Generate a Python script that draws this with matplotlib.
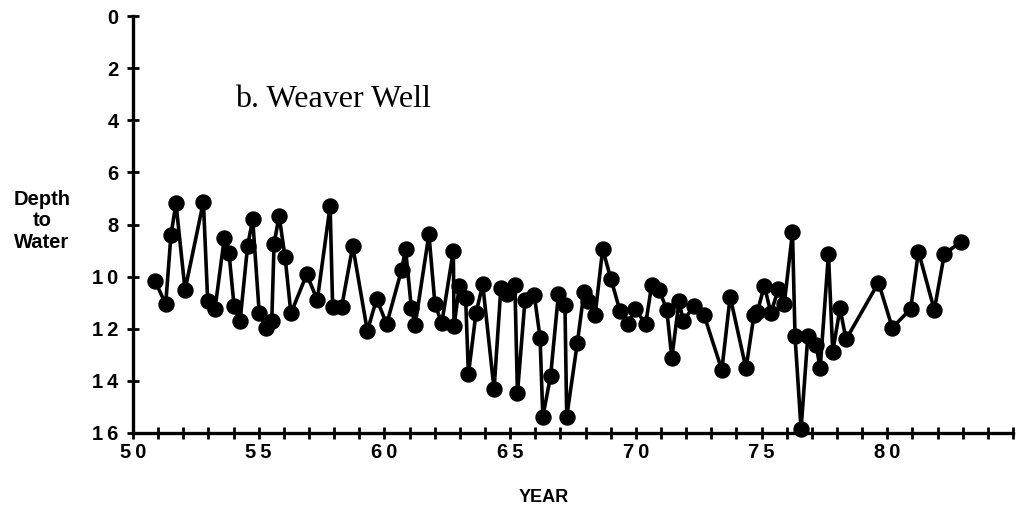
import matplotlib
matplotlib.use("Agg")
import matplotlib.pyplot as plt
from matplotlib.ticker import MultipleLocator, FuncFormatter

# Year of observation (19xx)
years = [50.88, 51.30, 51.51, 51.71, 52.07, 52.80, 52.97, 53.26, 53.63, 53.82,
         54.02, 54.26, 54.56, 54.76, 55.02, 55.29, 55.52, 55.61, 55.81, 56.05,
         56.28, 56.91, 57.33, 57.84, 57.94, 58.30, 58.74, 59.32, 59.69, 60.09,
         60.68, 60.84, 61.07, 61.22, 61.77, 62.01, 62.28, 62.74, 62.77, 62.98,
         63.23, 63.34, 63.64, 63.91, 64.36, 64.63, 64.89, 65.19, 65.29, 65.59,
         65.96, 66.19, 66.30, 66.61, 66.92, 67.18, 67.25, 67.67, 67.94, 68.11,
         68.38, 68.68, 69.01, 69.37, 69.68, 69.97, 70.39, 70.63, 70.93, 71.23,
         71.43, 71.72, 71.88, 72.33, 72.71, 73.42, 73.75, 74.38, 74.70, 74.83,
         75.11, 75.37, 75.67, 75.90, 76.23, 76.33, 76.57, 76.84, 77.17, 77.33,
         77.66, 77.83, 78.12, 78.36, 79.65, 80.20, 80.93, 81.24, 81.87, 82.27,
         82.94]

# Depth to water
depth = [10.17, 11.06, 8.40, 7.19, 10.51, 7.13, 10.92, 11.25, 8.53, 9.11,
         11.13, 11.69, 8.81, 7.80, 11.39, 11.98, 11.69, 8.75, 7.67, 9.26,
         11.41, 9.91, 10.90, 7.29, 11.15, 11.15, 8.83, 12.08, 10.86, 11.82,
         9.75, 8.94, 11.19, 11.86, 8.38, 11.06, 11.79, 9.01, 11.88, 10.36,
         10.83, 13.75, 11.41, 10.30, 14.32, 10.45, 10.67, 10.32, 14.48, 10.90,
         10.71, 12.34, 15.38, 13.80, 10.68, 11.09, 15.38, 12.56, 10.58, 10.92,
         11.47, 8.95, 10.09, 11.32, 11.82, 11.24, 11.82, 10.32, 10.51, 11.28,
         13.11, 10.94, 11.69, 11.13, 11.47, 13.58, 10.77, 13.52, 11.47, 11.35,
         10.36, 11.39, 10.48, 11.06, 8.30, 12.28, 15.85, 12.28, 12.62, 13.52,
         9.13, 12.88, 11.22, 12.41, 10.23, 11.96, 11.24, 9.04, 11.28, 9.13,
         8.66]

x_tick_labels = [50, 55, 60, 65, 70, 75, 80]
y_ticks = [0, 2, 4, 6, 8, 10, 12, 14, 16]

title_text = "b. Weaver Well"
ylabel_text = "Depth\nto\nWater"
xlabel_text = "YEAR"

sans = ['Liberation Sans', 'DejaVu Sans']

fig = plt.figure(figsize=(10.19, 5.15), dpi=100)
ax = fig.add_axes([133 / 1019, 82 / 515, 880 / 1019, 417 / 515])

ax.plot(years, depth, color='black', linewidth=2.6, marker='o',
        markersize=10.8, markerfacecolor='black', markeredgecolor='black',
        clip_on=False, zorder=3)

ax.set_xlim(50, 85)
ax.set_ylim(16, 0)

for s in ['top', 'right']:
    ax.spines[s].set_visible(False)
for s in ['left', 'bottom']:
    ax.spines[s].set_linewidth(2.4)

ax.set_yticks(y_ticks)
ax.xaxis.set_major_locator(MultipleLocator(1))


def spaced(v):
    return '\u2009'.join(str(int(round(v))))


def xfmt(v, p):
    iv = int(round(v))
    return spaced(iv) if iv in x_tick_labels else ''


ax.xaxis.set_major_formatter(FuncFormatter(xfmt))
ax.yaxis.set_major_formatter(FuncFormatter(lambda v, p: spaced(v)))

ax.tick_params(axis='both', direction='inout', length=9, width=2, color='black')
ax.tick_params(axis='y', pad=6)
ax.tick_params(axis='x', pad=3)
for lab in ax.get_xticklabels() + ax.get_yticklabels():
    lab.set_fontfamily(sans)
    lab.set_fontweight('bold')
    lab.set_fontsize(14.5)

fig.text(235 / 1019, 1 - 107 / 515, title_text, family='Liberation Serif',
         fontsize=23, ha='left', va='baseline')

fig.text(42 / 1019, 1 - 221 / 515, ylabel_text, family=sans, fontweight='bold',
         fontsize=14.5, ha='center', va='center', linespacing=1.15,
         multialignment='center')

fig.text(544 / 1019, 1 - 498 / 515, xlabel_text, family=sans, fontweight='bold',
         fontsize=13, ha='center', va='center')

fig.savefig('out.png', dpi=100, facecolor='white')
